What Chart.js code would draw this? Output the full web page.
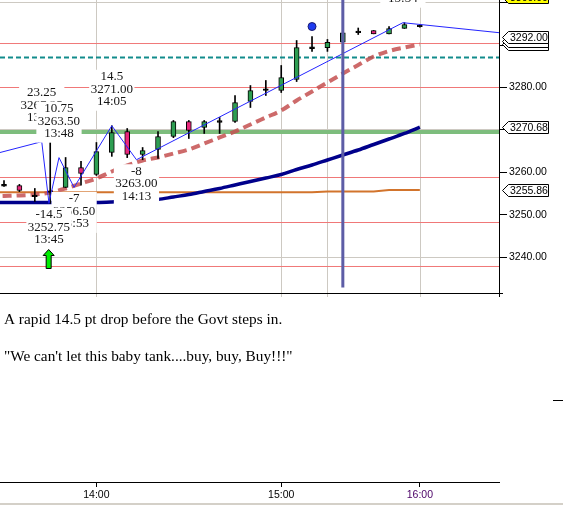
<!DOCTYPE html>
<html>
<head>
<meta charset="utf-8">
<title>ES 5 min - 14.5 pt drop</title>
<script src="https://cdn.jsdelivr.net/npm/chart.js@4.4.1/dist/chart.umd.min.js"></script>
<style>
  html, body { margin: 0; padding: 0; background: #fff; }
  canvas { display: block; }
</style>
</head>
<body>
<canvas id="chart" width="563" height="505"></canvas>
<script>
// 5 minute bars, bar 0 = 13:30 (session pause 15:15-15:30)
const bars   = [0, 1, 2, 3, 4, 5, 6, 7, 8, 9, 10, 11, 12, 13, 14, 15, 16, 17, 18, 19, 20, 21, 22, 23, 24, 25, 26, 27];
const opens  = [3257.00, 3256.94, 3254.50, 3255.50, 3256.47, 3261.18, 3259.53, 3264.70, 3269.65, 3264.24, 3265.41, 3268.47, 3272.00, 3270.59, 3272.00, 3272.00, 3276.71, 3279.50, 3279.29, 3281.88, 3289.35, 3289.35, 3290.65, 3293.10, 3293.41, 3292.63, 3293.90, 3294.50];
const highs  = [3258.12, 3257.20, 3256.24, 3267.06, 3263.53, 3262.60, 3267.06, 3271.00, 3270.35, 3265.88, 3269.65, 3272.24, 3272.24, 3272.24, 3272.94, 3278.12, 3280.47, 3281.65, 3285.18, 3291.06, 3292.00, 3291.30, 3293.90, 3294.00, 3293.41, 3294.35, 3295.25, 3294.82];
const lows   = [3256.71, 3255.50, 3253.18, 3252.75, 3256.47, 3257.00, 3259.30, 3263.80, 3263.50, 3263.00, 3263.29, 3268.20, 3268.00, 3269.18, 3269.18, 3271.80, 3275.29, 3278.12, 3278.82, 3281.40, 3288.50, 3288.50, 3290.60, 3292.47, 3292.63, 3292.63, 3293.90, 3294.20];
const closes = [3257.00, 3255.76, 3254.50, 3255.50, 3261.18, 3259.76, 3264.94, 3269.40, 3264.24, 3265.18, 3268.47, 3272.00, 3269.88, 3272.00, 3272.00, 3276.47, 3279.29, 3279.50, 3282.35, 3289.41, 3289.35, 3290.65, 3292.87, 3293.10, 3292.63, 3293.88, 3294.82, 3294.50];

// moving averages (start one bar before the left edge)
const maBars  = [-1, 0, 1, 2, 3, 4, 5, 6, 7, 8, 9, 10, 11, 12, 13, 14, 15, 16, 17, 18, 19, 20, 21, 22, 23, 24, 25, 26, 27];
const fastMA  = [3254.35, 3254.47, 3254.59, 3254.82, 3255.29, 3256.24, 3257.41, 3258.59, 3260.24, 3261.65, 3262.82, 3263.53, 3264.47, 3265.41, 3266.82, 3268.24, 3269.65, 3271.29, 3272.94, 3274.59, 3276.94, 3279.06, 3281.18, 3283.29, 3285.29, 3287.29, 3288.59, 3289.41, 3290.12];
const slowMA  = [3252.94, 3252.94, 3252.94, 3252.94, 3252.94, 3252.94, 3252.94, 3252.94, 3253.06, 3253.29, 3253.41, 3253.65, 3254.24, 3254.82, 3255.53, 3256.24, 3257.06, 3257.88, 3258.71, 3259.53, 3260.71, 3261.76, 3262.94, 3264.12, 3265.29, 3266.59, 3267.88, 3269.18, 3270.68];
const vwap    = [3255.35, 3255.35, 3255.35, 3255.35, 3255.35, 3255.35, 3255.35, 3255.35, 3255.35, 3255.35, 3255.35, 3255.35, 3255.35, 3255.35, 3255.35, 3255.35, 3255.35, 3255.35, 3255.35, 3255.35, 3255.35, 3255.35, 3255.55, 3255.55, 3255.55, 3255.55, 3255.86, 3255.86, 3255.86];

// zigzag swings
const swingX      = [-0.26, 2.45, 2.92, 3.57, 4.55, 7.00, 8.60, 25.90, 32.14];
const swingPrice  = [3264.70, 3267.25, 3252.75, 3263.50, 3256.50, 3271.00, 3263.00, 3295.25, 3292.90];
const swingChange = ['', '23.25', '-14.5', '10.75', '-7', '14.5', '-8', '32.25', ''];
const swingTime   = ['', '13:43', '13:45', '13:48', '13:53', '14:05', '14:13', '15:54', ''];
const labelOrder  = [1, 3, 5, 4, 2, 6, 7];

// horizontal levels
const pivotLines = [3290.35, 3280.00, 3258.82, 3248.23, 3237.88];
const targetLine = 3287.05;
const zoneLine   = 3269.53;
const lastPrice  = 3292.00;

// markers
const cursorBar = 22, cursorFloor = 3232.94;
const dotBar = 20, dotPrice = 3294.35;
const signalBar = 2.9, signalPrice = 3241.88;

// axes
const X_MIN = -0.26, X_MAX = 32.14;
const Y_MIN = 3187.17, Y_MAX = 3300.59;
const yTicks = [3240, 3250, 3260, 3270, 3280, 3290, 3300];
const yHidden = [3270, 3290, 3300];
const yGrid = [3240, 3270, 3300];
const xTickBars = [6, 18, 27];
const xTickLabels = ['14:00', '15:00', '16:00'];
const gridBars = [6, 18, 21, 27];

const notes = [
  'A rapid 14.5 pt drop before the Govt steps in.',
  '"We can\'t let this baby tank....buy, buy, Buy!!!"'
];

const PANEL_H = 293;
const SERIF = '"Liberation Serif", "Times New Roman", serif';
Chart.defaults.font.family = '"Liberation Sans", Arial, sans-serif';

const pts = (xs, ys) => xs.map((v, i) => ({ x: v, y: ys[i] }));
const flat = v => [{ x: X_MIN, y: v }, { x: X_MAX, y: v }];

const datasets = [];
pivotLines.forEach(v => datasets.push({
  type: 'line', data: flat(v), borderColor: '#f07878', borderWidth: 1, pointRadius: 0, order: 100
}));
datasets.push({ type: 'line', data: flat(targetLine), borderColor: '#128c8c', borderWidth: 2, borderDash: [5, 3], pointRadius: 0, order: 99 });
datasets.push({ type: 'line', data: flat(zoneLine), borderColor: '#7dbd7d', borderWidth: 4, pointRadius: 0, order: 98 });
datasets.push({ type: 'line', data: pts(maBars, vwap), borderColor: '#d2742c', borderWidth: 2, pointRadius: 0, order: 90 });
datasets.push({ type: 'line', data: pts(maBars, slowMA), borderColor: '#00008b', borderWidth: 3.5, pointRadius: 0, cubicInterpolationMode: 'monotone', order: 80 });
datasets.push({ type: 'line', data: pts(maBars, fastMA), borderColor: 'rgba(196,80,80,0.85)', borderWidth: 4, borderDash: [9, 5], pointRadius: 0, cubicInterpolationMode: 'monotone', order: 70 });

// candles: wick + body as floating bars
datasets.push({
  type: 'bar', grouped: false, order: 50,
  data: bars.map((b, i) => ({ x: b, y: [lows[i], highs[i]] })),
  backgroundColor: '#000', borderWidth: 0, barThickness: 1
});
datasets.push({
  type: 'bar', grouped: false, order: 40,
  data: bars.map((b, i) => {
    const o = opens[i], c = closes[i];
    return { x: b, y: o === c ? [o - 0.2, o + 0.2] : [Math.min(o, c), Math.max(o, c)] };
  }),
  backgroundColor: bars.map((b, i) => closes[i] > opens[i] ? '#2e9e52' : closes[i] < opens[i] ? '#e8287c' : '#000'),
  borderColor: '#000', borderWidth: 1, borderSkipped: false, barThickness: 5
});

datasets.push({ type: 'line', data: pts(swingX, swingPrice), borderColor: '#2424ff', borderWidth: 1, pointRadius: 0, order: 30 });
datasets.push({ type: 'line', data: [{ x: cursorBar, y: cursorFloor }, { x: cursorBar, y: Y_MAX }], borderColor: '#5d5da6', borderWidth: 3, pointRadius: 0, order: 20 });
datasets.push({ type: 'line', data: [{ x: dotBar, y: dotPrice }], showLine: false, pointRadius: 4, pointBackgroundColor: '#1f3cf0', pointBorderColor: '#1a1a70', pointBorderWidth: 1, order: 10 });

function tag(ctx, yc, text, fill) {
  ctx.beginPath();
  ctx.moveTo(502.5, yc);
  ctx.lineTo(508.5, yc - 6);
  ctx.lineTo(548.5, yc - 6);
  ctx.lineTo(548.5, yc + 6);
  ctx.lineTo(508.5, yc + 6);
  ctx.closePath();
  ctx.fillStyle = fill;
  ctx.fill();
  ctx.strokeStyle = '#000';
  ctx.lineWidth = 1;
  ctx.stroke();
  if (text) {
    ctx.fillStyle = '#000';
    ctx.font = '10.5px "Liberation Sans", Arial, sans-serif';
    ctx.textAlign = 'left';
    ctx.textBaseline = 'middle';
    ctx.fillText(text, 510, yc + 0.5);
  }
}

const extras = {
  id: 'extras',
  beforeDatasetsDraw(chart) {
    const { ctx, scales: { x } } = chart;
    ctx.save();
    ctx.strokeStyle = '#cdc9c2';
    ctx.lineWidth = 1;
    gridBars.forEach(b => {
      const px = Math.round(x.getPixelForValue(b)) + 0.5;
      ctx.beginPath();
      ctx.moveTo(px, 0);
      ctx.lineTo(px, PANEL_H + 4);
      ctx.stroke();
    });
    ctx.restore();
  },
  afterDatasetsDraw(chart) {
    const { ctx, scales: { x, y } } = chart;
    ctx.save();

    // swing labels
    ctx.font = '13px ' + SERIF;
    ctx.textAlign = 'center';
    ctx.textBaseline = 'middle';
    labelOrder.forEach(k => {
      const px = x.getPixelForValue(swingX[k]);
      const py = y.getPixelForValue(swingPrice[k]);
      const lines = [swingChange[k], swingPrice[k].toFixed(2), swingTime[k]];
      const low = swingChange[k].startsWith('-');
      const c = low ? [py + 11.5, py + 24, py + 36.5] : [py - 49, py - 36.5, py - 24];
      const w = Math.max(...lines.map(t => ctx.measureText(t).width)) + 3;
      ctx.fillStyle = '#fff';
      ctx.fillRect(px - w / 2, c[0] - 7, w, c[2] - c[0] + 16);
      ctx.fillStyle = '#141414';
      lines.forEach((t, j) => ctx.fillText(t, px, c[j]));
    });

    // buy arrow
    const ax = x.getPixelForValue(signalBar), ay = y.getPixelForValue(signalPrice);
    ctx.beginPath();
    ctx.moveTo(ax, ay);
    ctx.lineTo(ax + 5.5, ay + 6);
    ctx.lineTo(ax + 2.5, ay + 6);
    ctx.lineTo(ax + 2.5, ay + 19);
    ctx.lineTo(ax - 2.5, ay + 19);
    ctx.lineTo(ax - 2.5, ay + 6);
    ctx.lineTo(ax - 5.5, ay + 6);
    ctx.closePath();
    ctx.fillStyle = '#00ee00';
    ctx.fill();
    ctx.strokeStyle = '#000';
    ctx.lineWidth = 1;
    ctx.stroke();

    // panel frame
    ctx.strokeStyle = '#000';
    ctx.beginPath();
    ctx.moveTo(499.5, 0);
    ctx.lineTo(499.5, PANEL_H + 4);
    ctx.moveTo(0, PANEL_H + 0.5);
    ctx.lineTo(503, PANEL_H + 0.5);
    ctx.moveTo(553, 400.5);
    ctx.lineTo(563, 400.5);
    ctx.stroke();
    ctx.fillStyle = '#d4d0c8';
    ctx.fillRect(0, 503, 563, 2);

    // value tags on the price axis
    const pY = y.getPixelForValue(lastPrice);
    tag(ctx, Math.round(pY) + 7.5, '', '#fff');
    tag(ctx, Math.round(pY) + 4.5, '', '#fff');
    tag(ctx, Math.round(pY) + 0.5, lastPrice.toFixed(2), '#fff');
    tag(ctx, Math.round(y.getPixelForValue(slowMA[slowMA.length - 1])) + 0.5, slowMA[slowMA.length - 1].toFixed(2), '#fff');
    tag(ctx, Math.round(y.getPixelForValue(vwap[vwap.length - 1])) + 0.5, vwap[vwap.length - 1].toFixed(2), '#fff');
    tag(ctx, Math.round(y.getPixelForValue(3300)) - 5.5, '3300.00', '#ffff00');

    // notes
    ctx.font = '15.3px ' + SERIF;
    ctx.textAlign = 'left';
    ctx.fillStyle = '#000';
    ctx.fillText(notes[0], 4, 320);
    ctx.fillText(notes[1], 4, 357);
    ctx.restore();
  }
};

new Chart(document.getElementById('chart'), {
  type: 'bar',
  data: { datasets },
  options: {
    responsive: false,
    animation: false,
    events: [],
    devicePixelRatio: 1,
    layout: { padding: 0, autoPadding: false },
    plugins: { legend: { display: false }, tooltip: { enabled: false } },
    scales: {
      x: {
        type: 'linear', min: X_MIN, max: X_MAX, offset: false,
        afterBuildTicks: s => { s.ticks = xTickBars.map(v => ({ value: v })); },
        afterFit: s => { s.height = 23; s.paddingLeft = 0; s.paddingRight = 0; },
        ticks: {
          autoSkip: false, maxRotation: 0, padding: 2, font: { size: 10.5 },
          color: c => c.tick && c.tick.value === 27 ? '#4a0066' : '#000',
          callback: v => xTickLabels[xTickBars.indexOf(v)]
        },
        grid: { offset: false, drawOnChartArea: false, drawTicks: true, tickLength: 5, tickColor: '#000' },
        border: { display: true, color: '#000' }
      },
      y: {
        type: 'linear', position: 'right', min: Y_MIN, max: Y_MAX,
        afterBuildTicks: s => { s.ticks = yTicks.map(v => ({ value: v })); },
        afterFit: s => { s.width = 64; s.paddingTop = 0; s.paddingBottom = 0; },
        ticks: {
          padding: 2, font: { size: 10.5 }, color: '#000',
          callback: v => yHidden.includes(v) ? '' : v.toFixed(2)
        },
        grid: {
          color: c => c.tick && yGrid.includes(c.tick.value) ? '#cdc9c2' : 'rgba(0,0,0,0)',
          tickColor: '#000', tickLength: 8
        },
        border: { display: false }
      }
    }
  },
  plugins: [extras]
});
</script>
</body>
</html>
